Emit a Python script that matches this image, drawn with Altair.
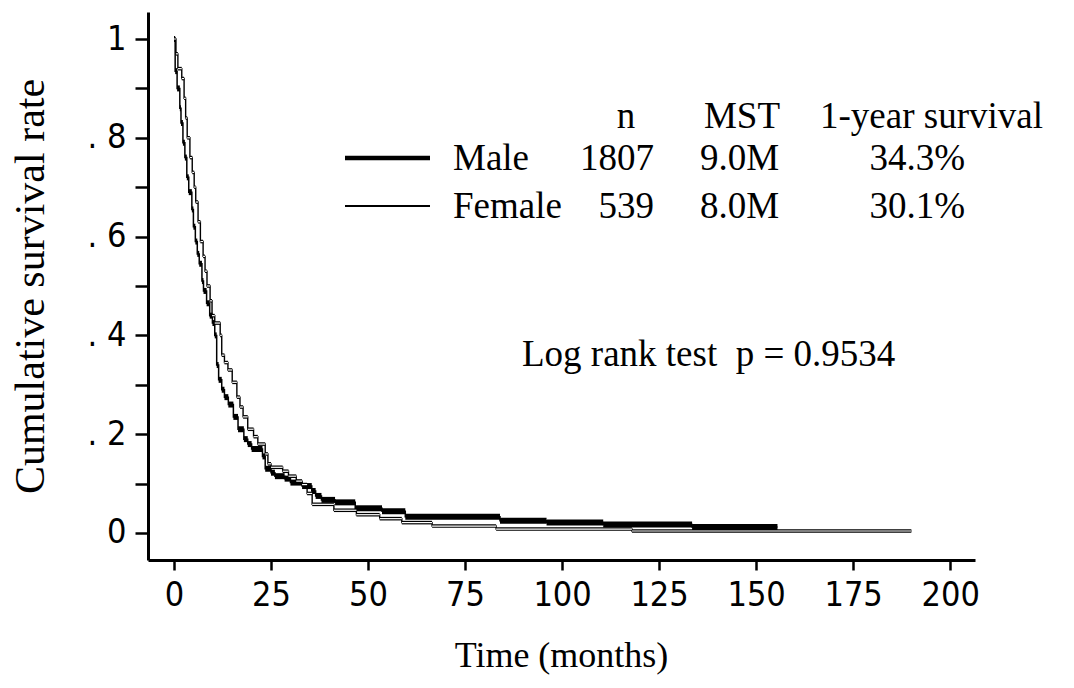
import altair as alt
import pandas as pd

# ---- data (Kaplan-Meier steps) ----
male_t = [0, 0.3, 0.8, 1.5, 1.8, 2.3, 2.8, 3.3, 3.8, 4.6, 5.0, 5.5, 6.0, 6.5, 7.2, 7.6,
          8.4, 9.2, 9.9, 10.5, 11.0, 11.5, 12.3, 13.0, 14.0, 15.3, 16.5, 18.0, 19.0, 20.0,
          22.8, 23.5, 25.0, 26.0, 28.5, 30.0, 33.0, 35.5, 36.5, 38.0, 41.5, 46.7, 53.6,
          59.6, 84.0, 96.0, 110.6, 133.5, 155.5]
male_s = [1.0, 0.935, 0.90, 0.86, 0.83, 0.79, 0.76, 0.72, 0.69, 0.655, 0.62, 0.59, 0.565,
          0.545, 0.51, 0.49, 0.465, 0.44, 0.425, 0.40, 0.34, 0.31, 0.29, 0.275, 0.26, 0.235,
          0.21, 0.19, 0.18, 0.17, 0.155, 0.13, 0.122, 0.115, 0.11, 0.102, 0.095, 0.085,
          0.075, 0.067, 0.062, 0.05, 0.044, 0.033, 0.025, 0.021, 0.017, 0.012, 0.012]

female_t = [0, 0.5, 1.0, 2.0, 2.6, 3.0, 3.4, 4.1, 4.7, 5.2, 5.6, 6.2, 6.8, 7.5, 8.0, 8.5,
            9.3, 9.8, 10.5, 11.9, 12.3, 13.0, 13.9, 15.0, 16.2, 17.0, 17.8, 19.0, 20.5,
            21.6, 23.5, 24.2, 25.0, 28.0, 29.5, 31.5, 33.0, 34.3, 35.6, 41.2, 47.0, 53.0,
            58.7, 66.5, 83.0, 118.0, 190.0]
female_s = [1.0, 0.97, 0.94, 0.92, 0.88, 0.84, 0.80, 0.76, 0.73, 0.70, 0.67, 0.63, 0.59,
            0.56, 0.53, 0.50, 0.47, 0.44, 0.425, 0.40, 0.36, 0.345, 0.33, 0.305, 0.275,
            0.255, 0.235, 0.21, 0.195, 0.18, 0.16, 0.14, 0.133, 0.125, 0.115, 0.105, 0.098,
            0.08, 0.058, 0.046, 0.037, 0.029, 0.021, 0.014, 0.008, 0.004, 0.004]

x_ticks = [0, 25, 50, 75, 100, 125, 150, 175, 200]
y_ticks = [round(i * 0.1, 1) for i in range(11)]

legend_header = ["n", "MST", "1-year survival"]
legend_groups = ["Male", "Female"]
legend_n = ["1807", "539"]
legend_mst = ["9.0M", "8.0M"]
legend_1yr = ["34.3%", "30.1%"]
test_text = "Log rank test\u00a0\u00a0p = 0.9534"

# ---- build tables ----
def curve(ts, ss):
    return pd.DataFrame({"t": ts, "s": ss})

def flats(ts, ss):
    return pd.DataFrame({"t": ts[:-1], "t2": ts[1:], "s": ss[:-1]})

male_df, female_df = curve(male_t, male_s), curve(female_t, female_s)
male_flat, female_flat = flats(male_t, male_s), flats(female_t, female_s)

SERIF = "Liberation Serif, Times New Roman, serif"
SANS = "Liberation Sans Narrow, DejaVu Sans Condensed, Roboto Condensed, Liberation Sans, Arial, sans-serif"

xs = alt.Scale(domain=[-6.7, 206.4], nice=False, zero=False)
ys = alt.Scale(domain=[-0.0547, 1.0547], nice=False, zero=False)

x_axis = alt.Axis(values=x_ticks, title="Time (months)", grid=False,
                  domainColor="black", domainWidth=3, tickColor="black", tickWidth=2.5,
                  tickSize=10, labelFont=SANS, labelFontSize=34, labelColor="black",
                  labelPadding=8, titleFont=SERIF, titleFontSize=36, titleFontWeight="normal",
                  titleColor="black", titleX=413, titleY=95, titleBaseline="middle",
                  titleAlign="center", labelFlush=False)
y_axis = alt.Axis(values=y_ticks, title="Cumulative survival rate", grid=False,
                  labelExpr="datum.value == 0 ? '0' : datum.value == 1 ? '1' : (round(datum.value*10) % 2 == 0 ? '. ' + round(datum.value*10) : '')",
                  domainColor="black", domainWidth=3, tickColor="black", tickWidth=2.5,
                  tickSize=13, labelFont=SANS, labelFontSize=34, labelColor="black",
                  labelPadding=9, titleFont=SERIF, titleFontSize=42, titleFontWeight="normal",
                  titleColor="black", titleX=-118, titleY=274, titleAngle=270,
                  titleBaseline="middle", titleAlign="center", labelFlush=False)

X = alt.X("t:Q", scale=xs, axis=x_axis)
Y = alt.Y("s:Q", scale=ys, axis=y_axis)

male_line = alt.Chart(male_df).mark_line(interpolate="step-after", color="black", strokeWidth=1.5).encode(
    x=X, y=Y)
male_bar = alt.Chart(male_flat).mark_rule(color="black", strokeWidth=6, strokeCap="butt").encode(
    x=X, x2="t2:Q", y=Y)

female_line = alt.Chart(female_df).mark_line(interpolate="step-after", color="black", strokeWidth=1.4).encode(
    x=X, y=Y)
female_outer = alt.Chart(female_flat).mark_rule(color="black", strokeWidth=3.6, strokeCap="butt").encode(
    x=X, x2="t2:Q", y=Y)
female_inner = alt.Chart(female_flat).mark_rule(color="white", strokeWidth=1.2, strokeCap="butt").encode(
    x=X, x2="t2:Q", y=Y)

dummy = pd.DataFrame({"k": [0]})

def label(txt, x, y, align="left", size=37):
    return alt.Chart(dummy).mark_text(text=txt, font=SERIF, fontSize=size, color="black",
                                      align=align, baseline="alphabetic").encode(
        x=alt.value(x), y=alt.value(y))

texts = [
    label(legend_header[0], 478, 116, "center"),
    label(legend_header[1], 594, 116, "center"),
    label(legend_header[2], 672, 116, "left"),
]
row_y = [158, 206]
for i in range(2):
    texts += [
        label(legend_groups[i], 305, row_y[i], "left"),
        label(legend_n[i], 506, row_y[i], "right"),
        label(legend_mst[i], 552, row_y[i], "left"),
        label(legend_1yr[i], 817, row_y[i], "right"),
    ]
texts.append(label(test_text, 374, 354, "left"))

key_male = alt.Chart(dummy).mark_rule(color="black", strokeWidth=4.5, strokeCap="butt").encode(
    x=alt.value(197), x2=alt.value(282), y=alt.value(146))
key_female = alt.Chart(dummy).mark_rule(color="black", strokeWidth=2, strokeCap="butt").encode(
    x=alt.value(197), x2=alt.value(282), y=alt.value(194))

chart = alt.layer(
    male_line, male_bar, female_line, female_outer, female_inner,
    key_male, key_female, *texts
).properties(
    width=827, height=548,
    autosize=alt.AutoSizeParams(type="none"),
    padding={"left": 148, "top": 12, "right": 99, "bottom": 128},
    background="white",
).configure_view(stroke=None)

chart.save("out.html", embed_options={"renderer": "svg", "actions": False})
